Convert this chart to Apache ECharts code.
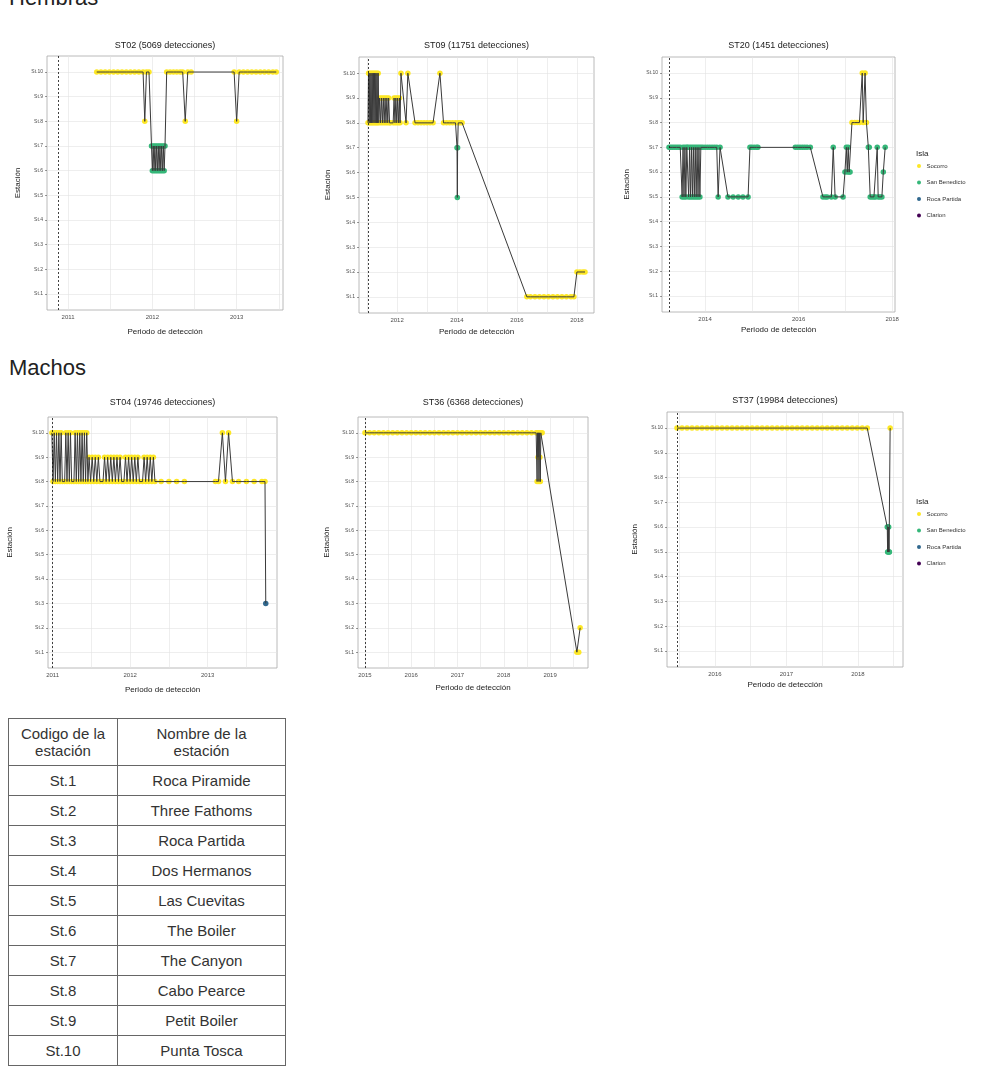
<!DOCTYPE html>
<html>
<head>
<meta charset="utf-8">
<script src="https://cdn.jsdelivr.net/npm/echarts@6/dist/echarts.min.js"></script>
<style>
  html, body { margin: 0; padding: 0; background: #fff; width: 982px; height: 1070px; overflow: hidden;
    font-family: "Liberation Sans", Arial, sans-serif; }
  #grafico { position: absolute; left: 0; top: 0; width: 982px; height: 712px; }
  .seccion { position: absolute; left: 9px; font-size: 22px; line-height: 22px; color: #222; white-space: nowrap; }
  .titulo { position: absolute; font-size: 9px; color: #1a1a1a; transform: translate(-50%, -50%); white-space: nowrap; }
  .leyenda { position: absolute; font-size: 8px; color: #1a1a1a; white-space: nowrap; }
  #tabla { position: absolute; left: 8px; top: 718px; border-collapse: collapse; font-size: 15px; color: #333; }
  #tabla td { border: 1px solid #666; text-align: center; padding: 0; }
  #tabla tr { height: 30px; }
  #tabla tr.cab { height: 47px; line-height: 17px; }
</style>
</head>
<body>
<div class="seccion" style="top:-13px">Hembras</div>
<div class="seccion" style="top:357px">Machos</div>
<div id="grafico"></div>
<table id="tabla"></table>

<script>
// Estaciones (eje Y) y su isla
const etiquetasEstacion = ['St.1', 'St.2', 'St.3', 'St.4', 'St.5', 'St.6', 'St.7', 'St.8', 'St.9', 'St.10'];
const nombresEstacion = ['Roca Piramide', 'Three Fathoms', 'Roca Partida', 'Dos Hermanos', 'Las Cuevitas',
  'The Boiler', 'The Canyon', 'Cabo Pearce', 'Petit Boiler', 'Punta Tosca'];
const islas = ['Socorro', 'San Benedicto', 'Roca Partida', 'Clarion'];
const islaDeEstacion = ['Socorro', 'Socorro', 'Roca Partida', 'Socorro', 'San Benedicto',
  'San Benedicto', 'San Benedicto', 'Socorro', 'Socorro', 'Socorro'];

// ST02 (hembra)
const fechasST02 = [2011.34, 2011.39, 2011.44, 2011.49, 2011.54, 2011.59, 2011.64, 2011.69, 2011.74, 2011.79, 2011.84, 2011.89, 2011.91, 2011.93, 2011.96,
  2011.99, 2012.00, 2012.01, 2012.02, 2012.03, 2012.04, 2012.05, 2012.06, 2012.07, 2012.08, 2012.09, 2012.10, 2012.11, 2012.12, 2012.13, 2012.14, 2012.15,
  2012.17, 2012.21, 2012.25, 2012.29, 2012.33, 2012.36, 2012.39, 2012.42, 2012.46, 2012.97, 2013.00,
  2013.03, 2013.08, 2013.13, 2013.18, 2013.23, 2013.28, 2013.33, 2013.38, 2013.43, 2013.47];
const estacionesST02 = [10, 10, 10, 10, 10, 10, 10, 10, 10, 10, 10, 10, 8, 10, 10,
  7, 6, 7, 6, 7, 6, 7, 6, 7, 6, 7, 6, 7, 6, 7, 6, 7,
  10, 10, 10, 10, 10, 10, 8, 10, 10, 10, 8,
  10, 10, 10, 10, 10, 10, 10, 10, 10, 10];
const añosST02 = [2011, 2012, 2013];
const marcaST02 = 2010.88;

// ST09 (hembra)
const fechasST09 = [2011.03, 2011.05, 2011.07, 2011.09, 2011.11, 2011.13, 2011.15, 2011.17, 2011.19, 2011.21, 2011.23, 2011.25,
  2011.27, 2011.29, 2011.31, 2011.33, 2011.35, 2011.37, 2011.39,
  2011.42, 2011.45, 2011.48, 2011.51, 2011.54, 2011.57, 2011.60, 2011.63, 2011.66, 2011.69, 2011.72, 2011.75, 2011.78,
  2011.87, 2011.90, 2011.93, 2011.96, 2011.99, 2012.02, 2012.05, 2012.08, 2012.10,
  2012.13, 2012.30, 2012.36, 2012.60, 2012.70, 2012.80, 2012.90, 2013.00, 2013.10, 2013.20, 2013.43, 2013.55,
  2013.65, 2013.75, 2013.85, 2013.95, 2014.00, 2014.01, 2014.02, 2014.04, 2014.10, 2014.17,
  2016.33, 2016.45, 2016.60, 2016.75, 2016.90, 2017.05, 2017.20, 2017.35, 2017.50, 2017.65, 2017.80, 2017.90,
  2018.00, 2018.10, 2018.20, 2018.27];
const estacionesST09 = [8, 10, 8, 10, 8, 10, 8, 10, 8, 10, 8, 10,
  8, 10, 8, 10, 8, 10, 8,
  9, 8, 9, 8, 9, 8, 9, 8, 9, 8, 9, 8, 8,
  8, 9, 8, 9, 8, 9, 8, 9, 8,
  10, 8, 10, 8, 8, 8, 8, 8, 8, 8, 10, 8,
  8, 8, 8, 8, 7, 5, 7, 8, 8, 8,
  1, 1, 1, 1, 1, 1, 1, 1, 1, 1, 1, 1,
  2, 2, 2, 2];
const añosST09 = [2012, 2014, 2016, 2018];
const marcaST09 = 2011.03;

// ST20 (hembra)
const fechasST20 = [2013.23, 2013.27, 2013.31, 2013.35, 2013.39, 2013.43, 2013.47,
  2013.51, 2013.53, 2013.55, 2013.57, 2013.59, 2013.61, 2013.63, 2013.65, 2013.67, 2013.69, 2013.71,
  2013.73, 2013.75, 2013.77, 2013.79, 2013.81, 2013.83, 2013.85, 2013.87, 2013.89, 2013.91,
  2013.95, 2014.00, 2014.05, 2014.10, 2014.15, 2014.20, 2014.25, 2014.28, 2014.32,
  2014.49, 2014.60, 2014.71, 2014.81, 2014.92, 2014.96, 2015.00, 2015.05, 2015.10, 2015.13,
  2015.93, 2015.98, 2016.03, 2016.08, 2016.13, 2016.18, 2016.25,
  2016.52, 2016.57, 2016.61, 2016.70, 2016.74, 2016.78,
  2016.95, 2016.99, 2017.02, 2017.04, 2017.06, 2017.08, 2017.10,
  2017.14, 2017.20, 2017.25, 2017.30, 2017.36, 2017.38, 2017.42, 2017.45,
  2017.49, 2017.51, 2017.53, 2017.57, 2017.61, 2017.64, 2017.68, 2017.70, 2017.74, 2017.78, 2017.81, 2017.85];
const estacionesST20 = [7, 7, 7, 7, 7, 7, 7,
  5, 7, 5, 7, 5, 7, 7, 5, 7, 5, 7,
  5, 7, 5, 7, 5, 7, 5, 7, 5, 7,
  7, 7, 7, 7, 7, 7, 7, 5, 7,
  5, 5, 5, 5, 5, 7, 7, 7, 7, 7,
  7, 7, 7, 7, 7, 7, 7,
  5, 5, 5, 5, 7, 5,
  5, 6, 7, 6, 7, 6, 6,
  8, 8, 8, 8, 10, 8, 10, 8,
  7, 7, 5, 5, 5, 5, 7, 5, 5, 5, 6, 7];
const añosST20 = [2014, 2016, 2018];
const marcaST20 = 2013.23;

// ST04 (macho)
const fechasST04 = [2010.99, 2011.005, 2011.02, 2011.035, 2011.05, 2011.065, 2011.08, 2011.095, 2011.11, 2011.125,
  2011.155, 2011.17, 2011.185, 2011.20, 2011.215, 2011.23, 2011.245,
  2011.275, 2011.29, 2011.305, 2011.32, 2011.335, 2011.35, 2011.365, 2011.38, 2011.395, 2011.41, 2011.425, 2011.44, 2011.455,
  2011.47, 2011.49, 2011.51, 2011.53, 2011.55, 2011.57, 2011.59, 2011.61,
  2011.65, 2011.67, 2011.69, 2011.71, 2011.73, 2011.75, 2011.77, 2011.79, 2011.81, 2011.83, 2011.85, 2011.87, 2011.89,
  2011.92, 2011.94, 2011.96, 2011.98, 2012.00, 2012.02, 2012.04, 2012.06, 2012.08, 2012.10, 2012.12,
  2012.16, 2012.18, 2012.20, 2012.22, 2012.24, 2012.26, 2012.28, 2012.30, 2012.32,
  2012.40, 2012.50, 2012.60, 2012.70, 2013.10, 2013.14, 2013.19, 2013.23, 2013.27, 2013.32,
  2013.40, 2013.50, 2013.60, 2013.70, 2013.74, 2013.75];
const estacionesST04 = [10, 8, 10, 8, 10, 8, 10, 8, 10, 8,
  8, 10, 8, 10, 8, 10, 8,
  8, 10, 8, 10, 8, 10, 8, 10, 8, 10, 8, 10, 8,
  9, 8, 9, 8, 9, 8, 9, 8,
  8, 9, 8, 9, 8, 9, 8, 9, 8, 9, 8, 9, 8,
  8, 9, 8, 9, 8, 9, 8, 9, 8, 9, 8,
  8, 9, 8, 9, 8, 9, 8, 9, 8,
  8, 8, 8, 8, 8, 8, 10, 8, 10, 8,
  8, 8, 8, 8, 8, 3];
const añosST04 = [2011, 2012, 2013];
const marcaST04 = 2010.99;

// ST36 (macho)
const fechasST36 = [2015.0, 2015.1, 2015.2, 2015.3, 2015.4, 2015.5, 2015.6, 2015.7, 2015.8, 2015.9,
  2016.0, 2016.1, 2016.2, 2016.3, 2016.4, 2016.5, 2016.6, 2016.7, 2016.8, 2016.9,
  2017.0, 2017.1, 2017.2, 2017.3, 2017.4, 2017.5, 2017.6, 2017.7, 2017.8, 2017.9,
  2018.0, 2018.1, 2018.2, 2018.3, 2018.4, 2018.5, 2018.6, 2018.7,
  2018.72, 2018.73, 2018.74, 2018.75, 2018.76, 2018.77, 2018.78, 2018.79, 2018.80, 2018.83,
  2019.58, 2019.62, 2019.65];
const estacionesST36 = [10, 10, 10, 10, 10, 10, 10, 10, 10, 10,
  10, 10, 10, 10, 10, 10, 10, 10, 10, 10,
  10, 10, 10, 10, 10, 10, 10, 10, 10, 10,
  10, 10, 10, 10, 10, 10, 10, 10,
  8, 10, 9, 10, 8, 10, 9, 8, 10, 10,
  1, 1, 2];
const añosST36 = [2015, 2016, 2017, 2018, 2019];
const marcaST36 = 2015.0;

// ST37 (macho)
const fechasST37 = [2015.47, 2015.54, 2015.61, 2015.68, 2015.75, 2015.82, 2015.89, 2015.96,
  2016.03, 2016.10, 2016.17, 2016.24, 2016.31, 2016.38, 2016.45, 2016.52, 2016.59, 2016.66, 2016.73, 2016.80, 2016.87, 2016.94,
  2017.01, 2017.08, 2017.15, 2017.22, 2017.29, 2017.36, 2017.43, 2017.50, 2017.57, 2017.64, 2017.71, 2017.78, 2017.85, 2017.92, 2017.99,
  2018.06, 2018.13,
  2018.41, 2018.415, 2018.42, 2018.425, 2018.43, 2018.435, 2018.44, 2018.45];
const estacionesST37 = [10, 10, 10, 10, 10, 10, 10, 10,
  10, 10, 10, 10, 10, 10, 10, 10, 10, 10, 10, 10, 10, 10,
  10, 10, 10, 10, 10, 10, 10, 10, 10, 10, 10, 10, 10, 10, 10,
  10, 10,
  6, 5, 6, 5, 6, 5, 5, 10];
const añosST37 = [2016, 2017, 2018];
const marcaST37 = 2015.47;

// Disposición de los seis paneles
const paneles = [
  { titulo: 'ST02 (5069 detecciones)', fechas: fechasST02, est: estacionesST02, años: añosST02, marca: marcaST02,
    menores: [2011.5, 2012.5, 2013.5], rango: [2010.75, 2013.55],
    caja: { left: 47, top: 56, width: 236, height: 254 }, gapX: 18, gapY: 25, tituloY: 45 },
  { titulo: 'ST09 (11751 detecciones)', fechas: fechasST09, est: estacionesST09, años: añosST09, marca: marcaST09,
    menores: [2011, 2013, 2015, 2017], rango: [2010.73, 2018.57],
    caja: { left: 359, top: 57, width: 235, height: 256 }, gapX: 15, gapY: 27, tituloY: 45 },
  { titulo: 'ST20 (1451 detecciones)', fechas: fechasST20, est: estacionesST20, años: añosST20, marca: marcaST20,
    menores: [2015, 2017], rango: [2013.08, 2018.06],
    caja: { left: 662, top: 57, width: 233, height: 255 }, gapX: 14, gapY: 31, tituloY: 45, leyenda: 155 },
  { titulo: 'ST04 (19746 detecciones)', fechas: fechasST04, est: estacionesST04, años: añosST04, marca: marcaST04,
    menores: [2011.5, 2012.5, 2013.5], rango: [2010.94, 2013.895],
    caja: { left: 48, top: 417, width: 229, height: 251 }, gapX: 18, gapY: 34, tituloY: 402 },
  { titulo: 'ST36 (6368 detecciones)', fechas: fechasST36, est: estacionesST36, años: añosST36, marca: marcaST36,
    menores: [2015.5, 2016.5, 2017.5, 2018.5, 2019.5], rango: [2014.85, 2019.82],
    caja: { left: 358, top: 417, width: 230, height: 251 }, gapX: 16, gapY: 27, tituloY: 402 },
  { titulo: 'ST37 (19984 detecciones)', fechas: fechasST37, est: estacionesST37, años: añosST37, marca: marcaST37,
    menores: [2015.5, 2016.5, 2017.5, 2018.5], rango: [2015.33, 2018.63],
    caja: { left: 667, top: 412, width: 236, height: 255 }, gapX: 14, gapY: 28, tituloY: 400, leyenda: 503 }
];

const coloresIsla = { 'Socorro': '#FDE725', 'San Benedicto': '#35B779', 'Roca Partida': '#31688E', 'Clarion': '#440154' };
const valoresY = etiquetasEstacion.map((_, i) => i + 1);
const fuente = '"Liberation Sans", Arial, sans-serif';

const grid = [], xAxis = [], yAxis = [], series = [], legend = [];

paneles.forEach((p, k) => {
  grid.push(Object.assign({ show: true, borderColor: '#a8a8a8', borderWidth: 0.8, backgroundColor: '#fff' }, p.caja));

  xAxis.push({
    type: 'value', gridIndex: k, min: p.rango[0], max: p.rango[1],
    axisLine: { show: false },
    axisTick: { show: false, customValues: p.años.concat(p.menores) },
    axisLabel: { customValues: p.años, formatter: v => String(v), fontSize: 6, color: '#4d4d4d', margin: 4, fontFamily: fuente },
    splitLine: { show: true, lineStyle: { color: '#e2e2e2', width: 0.6 } },
    name: 'Periodo de detección', nameLocation: 'middle', nameGap: p.gapX, nameMoveOverlap: false,
    nameTextStyle: { fontSize: 8, color: '#1a1a1a', fontFamily: fuente }
  });

  yAxis.push({
    type: 'value', gridIndex: k, min: 0.35, max: 10.65,
    axisLine: { show: false },
    axisTick: { show: true, customValues: valoresY, length: 2, lineStyle: { color: '#333', width: 0.5 } },
    axisLabel: { customValues: valoresY, formatter: v => etiquetasEstacion[Math.round(v) - 1], fontSize: 5,
      color: '#4d4d4d', margin: 4, fontFamily: fuente },
    splitLine: { show: true, lineStyle: { color: '#e2e2e2', width: 0.6 } },
    name: 'Estación', nameLocation: 'middle', nameGap: p.gapY, nameMoveOverlap: false,
    nameTextStyle: { fontSize: 8, color: '#1a1a1a', fontFamily: fuente }
  });

  // puntos coloreados por isla
  islas.forEach(isla => {
    const datos = [];
    p.fechas.forEach((f, i) => {
      if (islaDeEstacion[p.est[i] - 1] === isla) datos.push([f, p.est[i]]);
    });
    series.push({
      name: isla, type: 'scatter', xAxisIndex: k, yAxisIndex: k, data: datos,
      symbolSize: 5.5, itemStyle: { color: coloresIsla[isla], opacity: 1 }, z: 2, silent: true
    });
  });

  // trayectoria entre detecciones + fecha de marcaje
  series.push({
    type: 'line', xAxisIndex: k, yAxisIndex: k, showSymbol: false, symbol: 'none', silent: true, z: 3,
    data: p.fechas.map((f, i) => [f, p.est[i]]),
    lineStyle: { color: '#3a3a3a', width: 1 },
    markLine: {
      silent: true, symbol: 'none', label: { show: false },
      lineStyle: { color: '#111', width: 0.8, type: [2, 2] },
      data: [{ xAxis: p.marca }]
    }
  });

  if (p.leyenda) {
    legend.push({
      left: 917, top: p.leyenda + 8, orient: 'vertical', padding: 0, itemGap: 10.5,
      itemWidth: 7, itemHeight: 4, icon: 'circle', selectedMode: false, data: islas,
      textStyle: { fontSize: 6, color: '#333', fontFamily: fuente, padding: [0, 0, 0, -1] }
    });
  }
});

const grafico = echarts.init(document.getElementById('grafico'), null, { renderer: 'canvas' });
grafico.setOption({ animation: false, textStyle: { fontFamily: fuente }, grid, xAxis, yAxis, series, legend });

// títulos de panel y encabezado de leyenda
paneles.forEach(p => {
  const t = document.createElement('div');
  t.className = 'titulo';
  t.textContent = p.titulo;
  t.style.left = (p.caja.left + p.caja.width / 2) + 'px';
  t.style.top = p.tituloY + 'px';
  document.body.appendChild(t);
  if (p.leyenda) {
    const l = document.createElement('div');
    l.className = 'leyenda';
    l.textContent = 'Isla';
    l.style.left = '916px';
    l.style.top = (p.leyenda - 6) + 'px';
    document.body.appendChild(l);
  }
});

// tabla de códigos de estación
const tabla = document.getElementById('tabla');
let html = '<tr class="cab"><td style="width:108px">Codigo de la<br>estación</td><td style="width:167px">Nombre de la<br>estación</td></tr>';
etiquetasEstacion.forEach((c, i) => { html += '<tr><td>' + c + '</td><td>' + nombresEstacion[i] + '</td></tr>'; });
tabla.innerHTML = html;
</script>
</body>
</html>
